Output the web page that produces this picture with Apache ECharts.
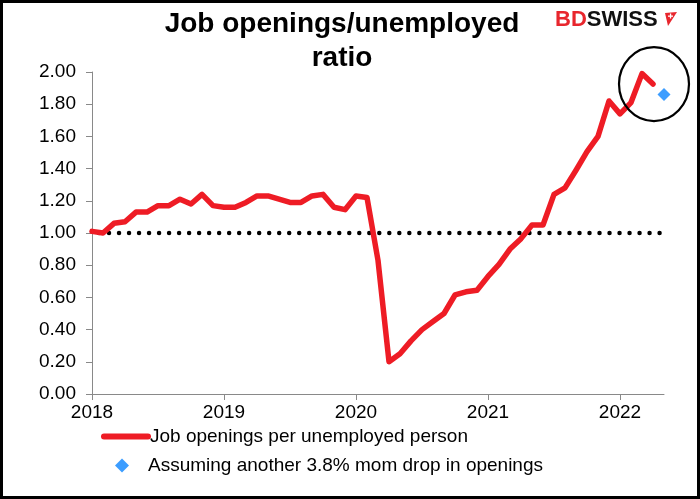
<!DOCTYPE html>
<html><head><meta charset="utf-8">
<script src="https://cdn.jsdelivr.net/npm/echarts@6/dist/echarts.min.js"></script>
<style>html,body{margin:0;padding:0;background:#fff}#c{width:700px;height:499px}</style>
</head><body><div id="c"></div>
<script>
const months = [
  '2018-01','2018-02','2018-03','2018-04','2018-05','2018-06','2018-07','2018-08','2018-09','2018-10','2018-11','2018-12',
  '2019-01','2019-02','2019-03','2019-04','2019-05','2019-06','2019-07','2019-08','2019-09','2019-10','2019-11','2019-12',
  '2020-01','2020-02','2020-03','2020-04','2020-05','2020-06','2020-07','2020-08','2020-09','2020-10','2020-11','2020-12',
  '2021-01','2021-02','2021-03','2021-04','2021-05','2021-06','2021-07','2021-08','2021-09','2021-10','2021-11','2021-12',
  '2022-01','2022-02','2022-03','2022-04'
];
const openingsRatio = [
  1.01,1.00,1.06,1.07,1.13,1.13,1.17,1.17,1.21,1.18,1.24,1.17,
  1.16,1.16,1.19,1.23,1.23,1.21,1.19,1.19,1.23,1.24,1.16,1.145,
  1.23,1.22,0.83,0.20,0.25,0.33,0.40,0.45,0.50,0.615,0.635,0.645,
  0.73,0.805,0.90,0.965,1.05,1.05,1.24,1.28,1.39,1.505,1.60,1.82,
  1.74,1.81,1.99,1.925
];
const projectionMonth = '2022-05';
const projectionValue = 1.86;
const parityLevel = 1.0;
const yearLabels = ['2018','2019','2020','2021','2022'];
const seriesNames = ['Job openings per unemployed person', 'Assuming another 3.8% mom drop in openings'];
const titleText = 'Job openings/unemployed\nratio';

const FONT = 'Liberation Sans, Arial, sans-serif';
function idx(m){ const [y, mo] = m.split('-').map(Number); return (y - 2018) * 12 + (mo - 1); }
const lineData = months.map((m, i) => [idx(m), openingsRatio[i]]);
const projData = [[idx(projectionMonth), projectionValue]];
const parityData = [[idx(months[0]), parityLevel], [idx(projectionMonth), parityLevel]];
const yearTicks = yearLabels.map(y => idx(y + '-01'));

const chart = echarts.init(document.getElementById('c'), null, {renderer: 'canvas'});
const axisGrey = '#898989';
chart.setOption({
  animation: false,
  backgroundColor: '#fff',
  textStyle: {fontFamily: FONT},
  title: {
    text: titleText, left: 342, top: 7, padding: 0, textAlign: 'center',
    textStyle: {fontFamily: FONT, fontSize: 28, fontWeight: 'bold', color: '#000', lineHeight: 34}
  },
  grid: {left: 92, right: 36, top: 72, bottom: 105, containLabel: false},
  xAxis: {
    type: 'value', min: idx(months[0]), max: idx(projectionMonth), interval: 12,
    splitLine: {show: false},
    axisLine: {show: true, onZero: false, lineStyle: {color: axisGrey, width: 1}},
    axisTick: {show: true, length: 6, customValues: yearTicks, lineStyle: {color: axisGrey}},
    axisLabel: {
      customValues: yearTicks, margin: 9, fontSize: 19, color: '#000', fontFamily: FONT,
      formatter: v => { const k = yearTicks.indexOf(v); return k >= 0 ? yearLabels[k] : ''; }
    }
  },
  yAxis: {
    type: 'value', min: 0, max: 2, interval: 0.2,
    splitLine: {show: false},
    axisLine: {show: true, lineStyle: {color: axisGrey, width: 1}},
    axisTick: {show: true, length: 6, lineStyle: {color: axisGrey}},
    axisLabel: {margin: 16, fontSize: 19, color: '#000', fontFamily: FONT, formatter: v => v.toFixed(2)}
  },
  legend: [
    {data: [seriesNames[0]], left: 101, top: 427, itemWidth: 44, itemHeight: 12, padding: 0,
     itemStyle: {opacity: 0},
     lineStyle: {width: 6, cap: 'round'}, textStyle: {fontSize: 19, color: '#000', fontFamily: FONT, padding: [0,0,0,-3]}},
    {data: [seriesNames[1]], left: 115, top: 456, itemWidth: 14, itemHeight: 14, padding: 0,
     textStyle: {fontSize: 19, color: '#000', fontFamily: FONT, padding: [0,0,0,14]}}
  ],
  series: [
    {name: 'parity', type: 'line', data: parityData, symbol: 'none', silent: true, z: 2,
     lineStyle: {color: '#000', width: 4.5, type: [0.01, 10], cap: 'round', dashOffset: 3}},
    {name: seriesNames[0], type: 'line', data: lineData, symbol: 'none', z: 3,
     itemStyle: {color: '#ee1c25'},
     lineStyle: {color: '#ee1c25', width: 5.5, join: 'round', cap: 'round'}},
    {name: seriesNames[1], type: 'scatter', data: projData, symbol: 'diamond', symbolSize: 13, z: 4,
     itemStyle: {color: '#0b84ff'}}
  ]
});

const last = lineData[lineData.length - 1];
const c = chart.convertToPixel({gridIndex: 0}, last);
chart.setOption({
  graphic: [
    {id: 'border', type: 'rect', silent: true, z: 100,
     shape: {x: 1.5, y: 1.5, width: 697, height: 496},
     style: {fill: 'none', stroke: '#000', lineWidth: 3}},
    {id: 'circle', type: 'ellipse', silent: true, z: 50,
     shape: {cx: c[0] + 1, cy: c[1], rx: 35, ry: 37},
     style: {fill: 'none', stroke: '#000', lineWidth: 2.2}},
    {id: 'logo', type: 'text', silent: true, x: 555, y: 20, z: 60,
     style: {text: '{a|BD}{b|SWISS}', verticalAlign: 'middle',
       rich: {a: {fontFamily: FONT, fontSize: 22, fontWeight: 'bold', fill: '#e8262d'},
              b: {fontFamily: FONT, fontSize: 22, fontWeight: 'bold', fill: '#111'}}}},
    {id: 'logoMark', type: 'polygon', silent: true, z: 60,
     shape: {points: [[665, 13], [677, 12], [668, 26]]},
     style: {fill: '#e8262d'}},
    {id: 'logoPlusH', type: 'rect', silent: true, z: 61,
     shape: {x: 668, y: 15.5, width: 5, height: 1.3}, style: {fill: '#fff'}},
    {id: 'logoPlusV', type: 'rect', silent: true, z: 61,
     shape: {x: 669.9, y: 13.5, width: 1.3, height: 5}, style: {fill: '#fff'}}
  ]
});
</script></body></html>
